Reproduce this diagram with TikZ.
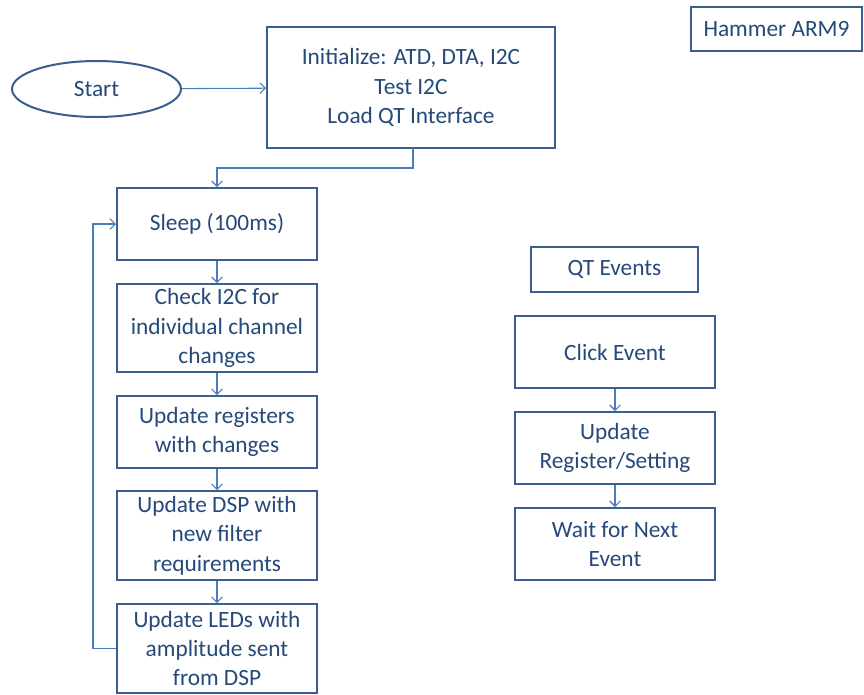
\documentclass[tikz,border=0pt]{standalone}
\usepackage{fontspec}
\setmainfont{Carlito}
\usetikzlibrary{arrows.meta,shapes.geometric}
\definecolor{boxline}{HTML}{3A5F8E}
\definecolor{boxtext}{HTML}{254A7A}
\definecolor{linkline}{HTML}{4A7EBB}
\tikzset{
  flowbox/.style={draw=boxline, line width=1.5pt, fill=white, text=boxtext,
    inner sep=0pt, align=center, minimum width=150pt,
    font=\fontsize{17.5}{22}\selectfont},
  startoval/.style={flowbox, ellipse, minimum width=126.75pt, minimum height=42pt},
  conn/.style={draw=linkline, line width=0.8pt,
    -{Straight Barb[length=4pt,width=8pt,line width=0.8pt]}},
  loopline/.style={draw=linkline, line width=0.8pt}
}
\begin{document}
\begin{tikzpicture}[x=0.75pt,y=-0.75pt]
\useasboundingbox (0,0) rectangle (864,694);

% program setup
\node[startoval] (start) at (96.5,89) {Start};
\node[flowbox, minimum width=216pt, minimum height=90.75pt] (init) at (411,87.5)
  {Initialize: ATD, DTA, I2C\\Test I2C\\Load QT Interface};
\node[flowbox, minimum width=128.25pt, minimum height=33pt] (title) at (776.5,29) {Hammer ARM9};

% main loop
\node[flowbox, minimum height=54pt] (sleep) at (217,224) {Sleep (100ms)};
\node[flowbox, minimum height=66pt] (check) at (217,328)
  {Check I2C for\\individual channel\\changes};
\node[flowbox, minimum height=54pt] (regs) at (217,432) {Update registers\\with changes};
\node[flowbox, minimum height=66.75pt] (dsp) at (217,535.5)
  {Update DSP with\\new filter\\requirements};
\node[flowbox, minimum height=66.75pt] (leds) at (217,648.5)
  {Update LEDs with\\amplitude sent\\from DSP};

% QT event handling
\node[flowbox, minimum width=125.25pt, minimum height=33.75pt] (qt) at (614.5,269.5) {QT Events};
\node[flowbox, minimum height=54pt] (click) at (615,352) {Click Event};
\node[flowbox, minimum height=54pt] (setreg) at (615,448) {Update\\Register/Setting};
\node[flowbox, minimum height=54pt] (wait) at (615,544) {Wait for Next\\Event};

% connectors
\coordinate (drop) at (413,148);
\coordinate (split) at (217,168);
\coordinate (loopx) at (93,648.5);
\draw[conn] (start) -- (init);
\draw[conn] (drop) |- (split) -- (sleep.north);
\draw[conn] (sleep) -- (check);
\draw[conn] (check) -- (regs);
\draw[conn] (regs) -- (dsp);
\draw[conn] (dsp) -- (leds);
\draw[conn] (leds.west) -- (loopx) |- (sleep.west);
\draw[conn] (click) -- (setreg);
\draw[conn] (setreg) -- (wait);
\end{tikzpicture}
\end{document}
